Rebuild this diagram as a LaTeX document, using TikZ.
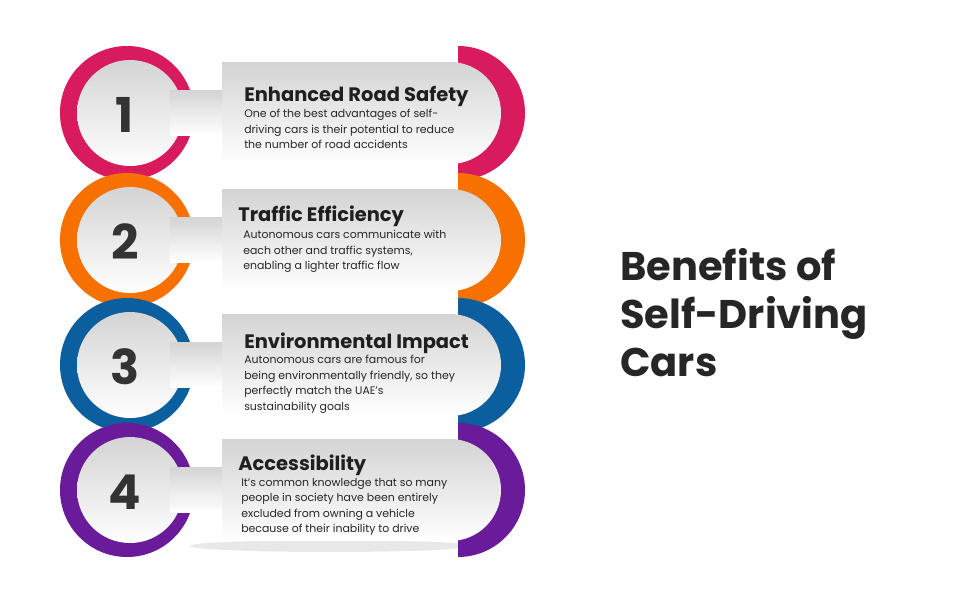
\documentclass[tikz,border=0pt]{standalone}
\usepackage{fontspec}
\setmainfont{Poppins}
\begin{document}
\begin{tikzpicture}[x=0.75pt,y=-0.75pt,
  graybox/.style={top color=black!17,bottom color=white,draw=none},
  numtxt/.style={font=\fontsize{36}{36}\selectfont\bfseries,text=black!80},
  headtxt/.style={anchor=base west,font=\fontsize{14.6}{18}\selectfont\bfseries,text=black!88,inner sep=0},
  bodytxt/.style={anchor=north west,font=\fontsize{8.2}{11.6}\selectfont,text=black!85,inner sep=0,align=left}]
\definecolor{cA}{HTML}{D81B5C}
\definecolor{cB}{HTML}{F77100}
\definecolor{cC}{HTML}{0B5F9E}
\definecolor{cD}{HTML}{6A1B9A}
\useasboundingbox (0,0) rectangle (960,600);
\fill[white] (0,0) rectangle (960,600);
\fill[black!15, opacity=0.6] (330,546) ellipse (140 and 6);
\foreach \yc/\col/\n [count=\i] in {113/cA/1,240/cB/2,365/cC/3,490/cD/4}{
  \begin{scope}
    \clip (458,\yc-80) rectangle (540,\yc+80);
    \fill[\col] (458,\yc) circle (67);
  \end{scope}
  \fill[\col] (127,\yc) circle (67);
  \shade[graybox] (130,\yc) circle (53);
  \shade[graybox] (170,\yc-23) rectangle (232,\yc+22);
  \shade[graybox] (222,\yc-51) -- (450,\yc-51) arc (-90:90:51) -- (222,\yc+51) -- cycle;
  \node[numtxt] (n\i) at (125,\yc+2) {\n};
}
\node[headtxt] (h1) at (244,101) {Enhanced Road Safety};
\node[bodytxt] (b1) at (244,109) {One of the best advantages of self-\\driving cars is their potential to reduce\\the number of road accidents};
\node[headtxt] (h2) at (238,221) {Traffic Efficiency};
\node[bodytxt] (b2) at (243,230) {Autonomous cars communicate with\\each other and traffic systems,\\enabling a lighter traffic flow};
\node[headtxt] (h3) at (244,348) {Environmental Impact};
\node[bodytxt] (b3) at (244,355) {Autonomous cars are famous for\\being environmentally friendly, so they\\perfectly match the UAE’s\\sustainability goals};
\node[headtxt] (h4) at (238,470) {Accessibility};
\node[bodytxt] (b4) at (241,478) {It’s common knowledge that so many\\people in society have been entirely\\excluded from owning a vehicle\\because of their inability to drive};
\node[anchor=north west,inner sep=0,align=left,text=black!85,font=\fontsize{30}{36}\selectfont\bfseries] (title) at (620,248) {Benefits of\\Self-Driving\\Cars};
\end{tikzpicture}
\end{document}
